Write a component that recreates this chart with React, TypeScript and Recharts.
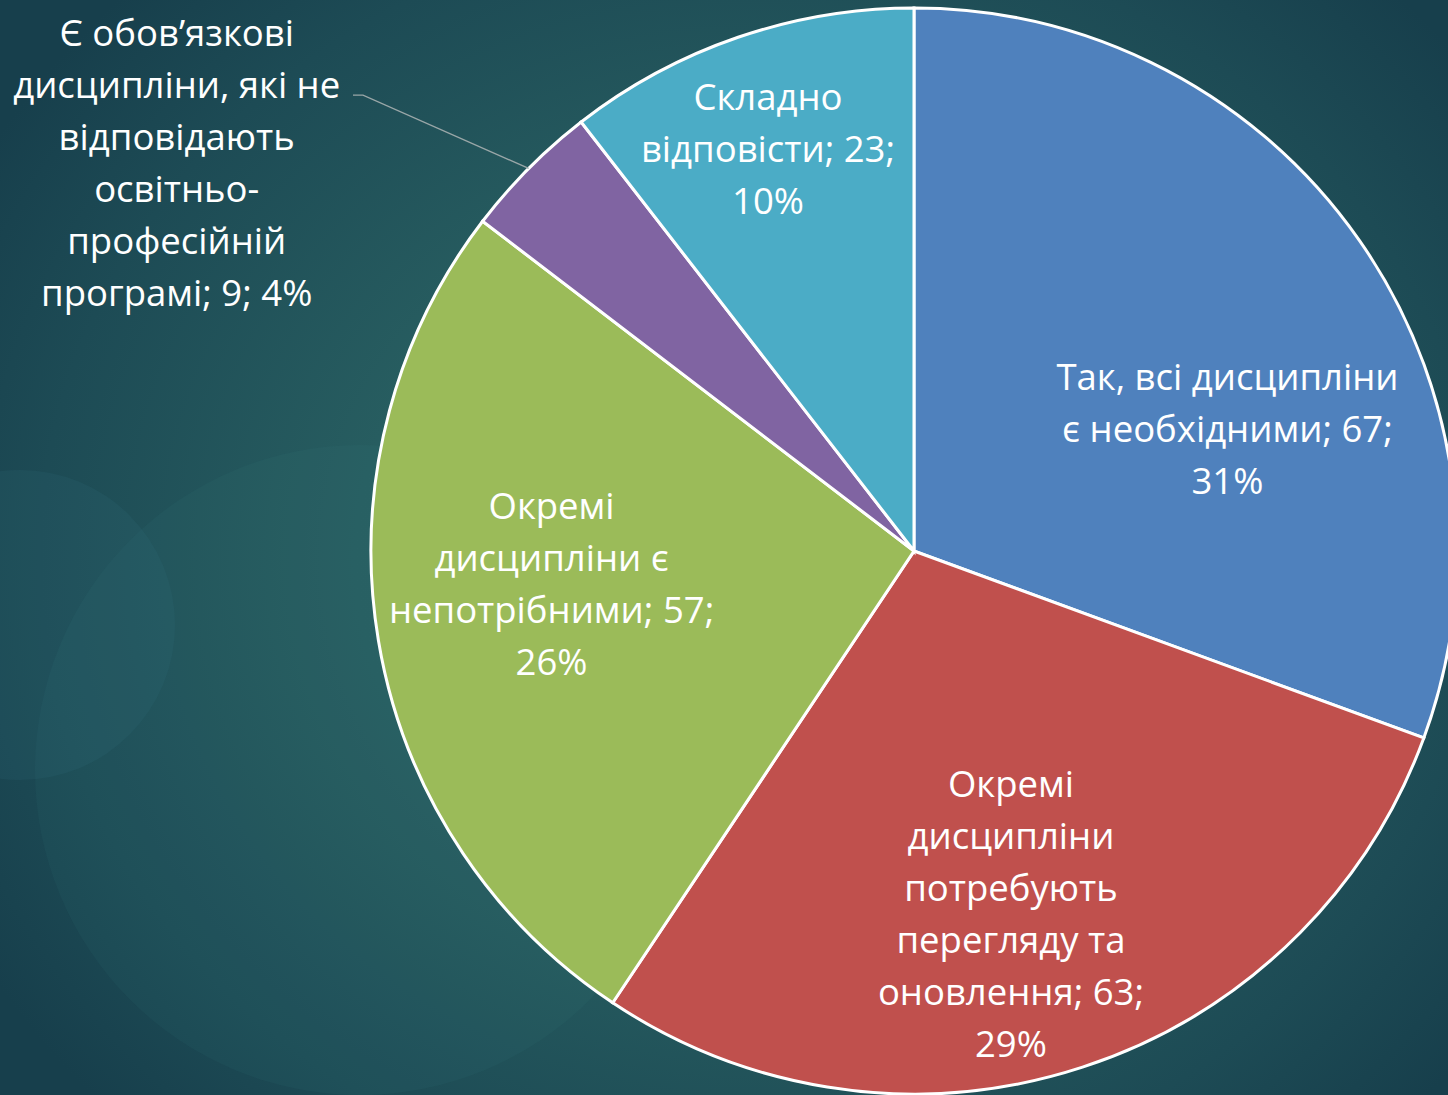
import React from 'react';
import { PieChart, Pie, Cell } from 'recharts';

const categories = [
  'Так, всі дисципліни є необхідними',
  'Окремі дисципліни потребують перегляду та оновлення',
  'Окремі дисципліни є непотрібними',
  'Є обов’язкові дисципліни, які не відповідають освітньо-професійній програмі',
  'Складно відповісти',
];
const values = [67, 63, 57, 9, 23];
// percentages as printed on the slide
const percentLabels = ['31%', '29%', '26%', '4%', '10%'];
// how each label is wrapped, as in the slide
const labelLines = [
  ['Так, всі дисципліни', 'є необхідними; {v};', '{p}'],
  ['Окремі', 'дисципліни', 'потребують', 'перегляду та', 'оновлення; {v};', '{p}'],
  ['Окремі', 'дисципліни є', 'непотрібними; {v};', '{p}'],
  ['Є обов’язкові', 'дисципліни, які не', 'відповідають', 'освітньо-', 'професійній', 'програмі; {v}; {p}'],
  ['Складно', 'відповісти; {v};', '{p}'],
];
const colors = ['#4F81BD', '#C0504D', '#9BBB59', '#8064A2', '#4BACC6'];

// label placement: distance as a share of the radius and angle in degrees
const labelPlace = [
  { r: 0.62, a: 21.4 },
  { r: 0.69, a: -75 },
  { r: 0.67, a: -175 },
  { r: 1.535, a: 152.2, elbowR: 1.317, elbowA: 140.4 },
  { r: 0.79, a: 109.9 },
];

const data = categories.map((name, i) => ({ name, value: values[i] }));

const RAD = Math.PI / 180;
const LINE_H = 52;

const renderLabel = (props: any) => {
  const { cx, cy, outerRadius, midAngle, value, index } = props;
  const place = labelPlace[index];
  const x = cx + outerRadius * place.r * Math.cos(place.a * RAD);
  const y = cy - outerRadius * place.r * Math.sin(place.a * RAD);
  const lines = labelLines[index].map((l) =>
    l.replace('{v}', String(value)).replace('{p}', percentLabels[index])
  );
  const top = y - ((lines.length - 1) / 2) * LINE_H;
  let leader = null;
  if (place.elbowR) {
    const sx = cx + outerRadius * Math.cos(midAngle * RAD);
    const sy = cy - outerRadius * Math.sin(midAngle * RAD);
    const ex = cx + outerRadius * place.elbowR * Math.cos(place.elbowA * RAD);
    const ey = cy - outerRadius * place.elbowR * Math.sin(place.elbowA * RAD);
    leader = (
      <polyline
        points={`${sx},${sy} ${ex},${ey} ${ex - 10},${ey}`}
        fill="none"
        stroke="#9aa7a8"
        strokeWidth={1.3}
      />
    );
  }
  return (
    <g key={`lbl-${index}`}>
      {leader}
      <text
        x={x}
        y={top}
        fill="#ffffff"
        textAnchor="middle"
        dominantBaseline="central"
        style={{ fontFamily: '"Open Sans", "Noto Sans", sans-serif', fontSize: 36.5 }}
      >
        {lines.map((l, i) => (
          <tspan key={i} x={x} y={top + i * LINE_H}>
            {l}
          </tspan>
        ))}
      </text>
    </g>
  );
};

export default function App() {
  return (
    <div
      style={{
        position: 'absolute',
        left: 0,
        top: 0,
        width: 1448,
        height: 1095,
        overflow: 'hidden',
        background:
          'radial-gradient(ellipse 900px 800px at 760px 560px, #2d6766 0%, #275d60 45%, #1d4b55 80%, #173f4c 100%)',
      }}
    >
      <div
        style={{
          position: 'absolute',
          left: 35,
          top: 445,
          width: 650,
          height: 650,
          borderRadius: '50%',
          background: 'rgba(70, 140, 140, 0.08)',
        }}
      />
      <div
        style={{
          position: 'absolute',
          left: -135,
          top: 470,
          width: 310,
          height: 310,
          borderRadius: '50%',
          background: 'rgba(60, 120, 140, 0.12)',
        }}
      />
      <div style={{ position: 'absolute', left: 0, top: 0 }}>
        <PieChart width={1448} height={1095} margin={{ top: 0, right: 0, bottom: 0, left: 0 }}>
          <Pie
            data={data}
            dataKey="value"
            nameKey="name"
            cx={914}
            cy={551}
            outerRadius={543}
            startAngle={90}
            endAngle={-270}
            stroke="#ffffff"
            strokeWidth={3}
            label={renderLabel}
            labelLine={false}
            isAnimationActive={false}
          >
            {data.map((d, i) => (
              <Cell key={d.name} fill={colors[i]} />
            ))}
          </Pie>
        </PieChart>
      </div>
    </div>
  );
}
